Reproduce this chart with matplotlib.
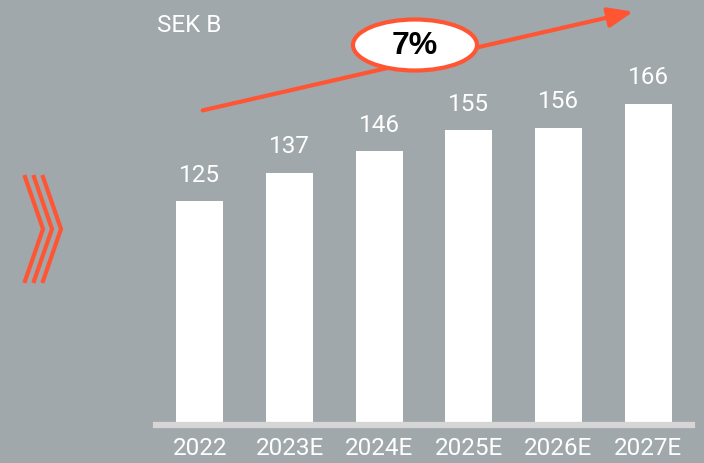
import matplotlib
matplotlib.use("Agg")
import matplotlib.pyplot as plt
from matplotlib.patches import Ellipse, FancyArrowPatch
from matplotlib.lines import Line2D

# data
years = ["2022", "2023E", "2024E", "2025E", "2026E", "2027E"]
revenue = [125, 137, 146, 155, 156, 166]
unit_label = "SEK B"
cagr_label = "7%"

BG = "#a0a8ac"
ORANGE = "#ff5533"
BASE = "#d6d6d6"
W, H = 704, 464

plt.rcParams["font.family"] = ["Roboto", "Liberation Sans", "DejaVu Sans"]

fig = plt.figure(figsize=(W / 100, H / 100), dpi=100, facecolor=BG)


def px(x, y):
    # pixel (from top-left) -> figure fraction
    return x / W, 1 - y / H


# ── bar axes ─────────────────────────────────────────────
left, bottom = px(156, 426)
right, _ = px(692, 0)
ax = fig.add_axes([left, bottom, right - left, 1 - bottom])
ax.set_facecolor(BG)
x = range(len(years))
ax.bar(x, revenue, width=0.525, color="white", zorder=2)
ax.set_xlim(-0.49, len(years) - 0.51)
ax.set_ylim(31, 210)
for xi, v in zip(x, revenue):
    ax.annotate(str(v), (xi, v), xytext=(0, 11), textcoords="offset points",
                ha="center", va="bottom", color="white", fontsize=17.5)

for s in ["top", "right", "left"]:
    ax.spines[s].set_visible(False)
ax.spines["bottom"].set_color(BASE)
ax.spines["bottom"].set_linewidth(4.5)
ax.spines["bottom"].set_zorder(3)
ax.set_yticks([])
ax.set_xticks(list(x))
ax.set_xticklabels(years, color="white", fontsize=17.5)
ax.tick_params(axis="x", length=0, pad=8)

# ── unit label ───────────────────────────────────────────
fig.text(*px(157, 25), unit_label, color="white", fontsize=17.5,
         ha="left", va="center")

# ── growth arrow + CAGR bubble ───────────────────────────
fig.add_artist(FancyArrowPatch(
    px(200, 112), px(636, 12), transform=fig.transFigure,
    arrowstyle="-|>,head_length=7.5,head_width=3", color=ORANGE,
    linewidth=3, mutation_scale=2))
cx, cy = px(415, 46)
fig.add_artist(Ellipse((cx, cy), 124 / W, 51 / H, transform=fig.transFigure,
                       facecolor="white", edgecolor=ORANGE, linewidth=3,
                       zorder=5))
fig.text(cx, cy, cagr_label, color="black", fontsize=23, fontweight="bold",
         family=["Liberation Sans", "DejaVu Sans"], ha="center", va="center",
         zorder=6)

# ── chevrons ─────────────────────────────────────────────
for dx in (0, 9, 18):
    pts = [px(25 + dx, 178), px(43 + dx, 230), px(25 + dx, 282)]
    fig.add_artist(Line2D([p[0] for p in pts], [p[1] for p in pts],
                          transform=fig.transFigure, color=ORANGE,
                          linewidth=3, solid_joinstyle="miter"))

fig.savefig("out.png", dpi=100, facecolor=BG)
